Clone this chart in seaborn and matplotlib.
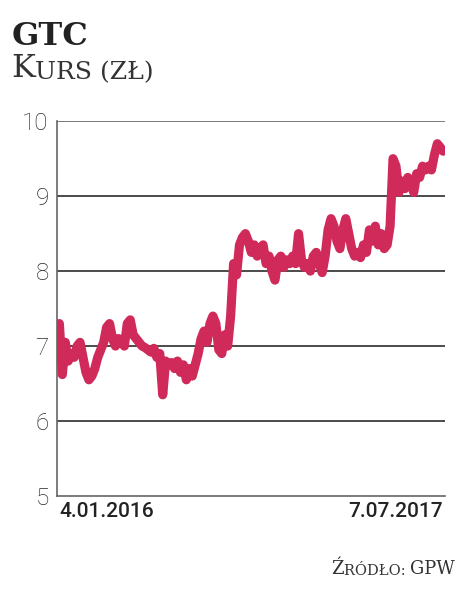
import numpy as np
import pandas as pd
import matplotlib
matplotlib.use("Agg")
import matplotlib.pyplot as plt
import seaborn as sns

# GTC closing price (zł), sampled roughly every few sessions, 4.01.2016 - 7.07.2017
kurs = [
    7.30, 6.62, 7.05, 6.80, 6.90, 6.85, 7.00, 7.05, 6.85, 6.65,
    6.55, 6.60, 6.70, 6.85, 6.95, 7.05, 7.25, 7.30, 7.10, 7.00,
    7.10, 7.05, 7.00, 7.30, 7.35, 7.15, 7.10, 7.05, 7.00, 6.98,
    6.95, 6.92, 6.97, 6.85, 6.90, 6.35, 6.80, 6.75, 6.78, 6.70,
    6.80, 6.65, 6.75, 6.55, 6.70, 6.60, 6.75, 6.90, 7.10, 7.20,
    7.05, 7.30, 7.40, 7.30, 6.95, 6.90, 7.15, 7.00, 7.40, 8.10,
    7.95, 8.35, 8.45, 8.50, 8.40, 8.25, 8.35, 8.20, 8.30, 8.35,
    8.10, 8.20, 8.00, 7.88, 8.15, 8.20, 8.05, 8.15, 8.10, 8.20,
    8.10, 8.50, 8.15, 8.05, 8.10, 8.00, 8.20, 8.25, 8.10, 7.98,
    8.20, 8.55, 8.70, 8.60, 8.40, 8.30, 8.55, 8.70, 8.50, 8.30,
    8.20, 8.25, 8.18, 8.35, 8.25, 8.55, 8.40, 8.60, 8.35, 8.50,
    8.30, 8.35, 8.60, 9.50, 9.40, 9.05, 9.20, 9.10, 9.25, 9.20,
    9.05, 9.30, 9.25, 9.40, 9.35, 9.40, 9.35, 9.55, 9.70, 9.65,
    9.60,
]
date_labels = ["4.01.2016", "7.07.2017"]
y_ticks = [5, 6, 7, 8, 9, 10]

df = pd.DataFrame({"t": np.arange(len(kurs)), "kurs": kurs})

sns.set_theme(style="white")
plt.rcParams["font.family"] = ["Roboto", "DejaVu Sans"]

fig = plt.figure(figsize=(4.65, 5.93), dpi=100)
ax = fig.add_axes([0.1226, 0.1636, 0.8344, 0.632])

for v in y_ticks[1:]:
    ax.axhline(v, color="#1a1a1a" if v < 10 else "#555555", lw=1.1, zorder=1)

sns.lineplot(data=df, x="t", y="kurs", ax=ax, color="#cf2a5a", lw=6.6,
             solid_joinstyle="round", solid_capstyle="round", zorder=3)

ax.set_ylim(5, 10)
ax.set_xlim(-0.8, len(kurs) - 1 + 0.6)
ax.set_xlabel("")
ax.set_ylabel("")
for s in ["top", "right"]:
    ax.spines[s].set_visible(False)
for s in ["left", "bottom"]:
    ax.spines[s].set_color("#666666")
    ax.spines[s].set_linewidth(1.2)

ax.set_yticks(y_ticks)
ax.set_yticklabels([str(v) for v in y_ticks], fontsize=17.5, color="#2b2b2b",
                   fontweight="light")
ax.tick_params(axis="y", length=0, pad=6)

ax.set_xticks([0, len(kurs) - 1])
ax.set_xticklabels(date_labels, fontsize=15, color="#222222", fontweight="medium")
ax.get_xticklabels()[0].set_ha("left")
ax.get_xticklabels()[1].set_ha("right")
ax.tick_params(axis="x", length=0, pad=4)

fig.text(12 / 465, 1 - 45 / 593, "GTC", fontsize=23, fontweight="bold",
         family="DejaVu Serif", color="#222222")
k = fig.text(11 / 465, 1 - 77 / 593, "K", fontsize=23, family="DejaVu Serif",
             color="#333333")
ax.annotate("URS (ZŁ)", xy=(1, 0), xycoords=k, fontsize=18,
            family="DejaVu Serif", color="#333333", va="bottom")

src = fig.text(455 / 465, 1 - 574 / 593, "GPW", fontsize=13,
               family="DejaVu Serif", color="#333333", ha="right")
s2 = ax.annotate("RÓDŁO: ", xy=(0, 0), xycoords=src, fontsize=10.5,
                 family="DejaVu Serif", color="#333333", ha="right", va="bottom")
ax.annotate("Ź", xy=(0, 0), xycoords=s2, fontsize=13,
            family="DejaVu Serif", color="#333333", ha="right", va="bottom")

fig.savefig("out.png", dpi=100)
